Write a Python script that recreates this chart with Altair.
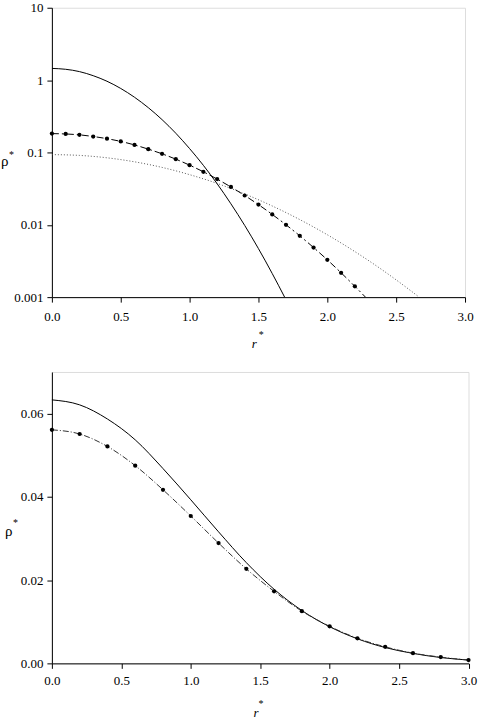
import altair as alt
import pandas as pd

# ---------------- data ----------------
# top panel (log scale)
top_r_solid = [0.0, 0.1, 0.2, 0.3, 0.4, 0.5, 0.6, 0.7, 0.8, 0.9, 1.0, 1.1, 1.2, 1.3, 1.4, 1.5, 1.6, 1.69]
top_rho_solid = [1.45, 1.41, 1.31, 1.15, 0.964, 0.766, 0.579, 0.416, 0.284, 0.184, 0.113, 0.0663, 0.0369,
                 0.0195, 0.0098, 0.00468, 0.00212, 0.001]

top_r_dotted = [0.0, 0.2, 0.4, 0.6, 0.8, 1.0, 1.2, 1.4, 1.6, 1.8, 2.0, 2.2, 2.4, 2.6, 2.667]
top_rho_dotted = [0.0933, 0.0910, 0.0843, 0.0742, 0.0621, 0.0493, 0.0373, 0.0267, 0.0182, 0.0118,
                  0.00728, 0.00426, 0.00237, 0.00125, 0.001]

top_r_marked = [0.0, 0.1, 0.2, 0.3, 0.4, 0.5, 0.6, 0.7, 0.8, 0.9, 1.0, 1.1, 1.2, 1.3, 1.4, 1.5, 1.6,
                1.7, 1.8, 1.9, 2.0, 2.1, 2.2]
top_rho_marked = [0.182, 0.180, 0.175, 0.166, 0.155, 0.142, 0.127, 0.111, 0.0957, 0.0807, 0.0667,
                  0.054, 0.0428, 0.0333, 0.0254, 0.0190, 0.0139, 0.0100, 0.00704, 0.00485, 0.00328,
                  0.00217, 0.00141]
top_r_marked_end = [2.277]
top_rho_marked_end = [0.001]

# bottom panel (linear scale)
bot_r = [0.0, 0.2, 0.4, 0.6, 0.8, 1.0, 1.2, 1.4, 1.6, 1.8, 2.0, 2.2, 2.4, 2.6, 2.8, 3.0]
bot_rho_solid = [0.0633, 0.0621, 0.0587, 0.0537, 0.0468, 0.0393, 0.0316, 0.0242, 0.0178, 0.0127,
                 0.0088, 0.0059, 0.0038, 0.0024, 0.0014, 0.0008]
bot_rho_marked = [0.0561, 0.0551, 0.0521, 0.0475, 0.0417, 0.0354, 0.0289, 0.0227, 0.0173, 0.01254,
                  0.00889, 0.00603, 0.00397, 0.00246, 0.0015, 0.00079]

x_ticks = [0.0, 0.5, 1.0, 1.5, 2.0, 2.5, 3.0]
top_y_ticks = [0.001, 0.01, 0.1, 1, 10]
bot_y_ticks = [0.0, 0.02, 0.04, 0.06]

FONT = "Liberation Serif, Times New Roman, serif"

# ---------------- tables ----------------
t_solid = pd.DataFrame({"r": top_r_solid, "rho": top_rho_solid})
t_dot = pd.DataFrame({"r": top_r_dotted, "rho": top_rho_dotted})
t_mark = pd.DataFrame({"r": top_r_marked, "rho": top_rho_marked})
t_mark_line = pd.DataFrame({"r": top_r_marked + top_r_marked_end,
                            "rho": top_rho_marked + top_rho_marked_end})
b_solid = pd.DataFrame({"r": bot_r, "rho": bot_rho_solid})
b_mark = pd.DataFrame({"r": bot_r, "rho": bot_rho_marked})


def x_axis(pad):
    return alt.Axis(values=x_ticks, format=".1f", title=None, grid=False, domainColor="black",
                    tickColor="black", tickSize=5, labelFont=FONT, labelFontSize=13,
                    labelColor="black", labelPadding=pad, labelFlush=False)


def x_enc(pad):
    return alt.X("r:Q", scale=alt.Scale(domain=[0, 3], nice=False, zero=False), axis=x_axis(pad))


top_scale = alt.Scale(type="log", domain=[0.001, 10], nice=False)
top_axis = alt.Axis(values=top_y_ticks, format="~g", title=None, grid=False, domainColor="black",
                    tickColor="black", tickSize=5, labelFont=FONT, labelFontSize=13,
                    labelColor="black", labelPadding=4, labelFlush=False)
bot_scale = alt.Scale(domain=[0, 0.07], nice=False)
bot_axis = alt.Axis(values=bot_y_ticks, format=".2f", title=None, grid=False, domainColor="black",
                    tickColor="black", tickSize=5, labelFont=FONT, labelFontSize=13,
                    labelColor="black", labelPadding=4, labelFlush=False)


def texts(items):
    layers = []
    for txt, x, y, size, style, align in items:
        layers.append(
            alt.Chart(pd.DataFrame({"a": [0]})).mark_text(
                text=txt, font=FONT, fontSize=size, fontStyle=style, align=align,
                baseline="middle", color="black"
            ).encode(x=alt.value(x), y=alt.value(y))
        )
    return layers


tx = x_enc(8)
ty = alt.Y("rho:Q", scale=top_scale, axis=top_axis)
top = alt.layer(
    alt.Chart(t_dot).mark_line(color="#444444", strokeWidth=0.9, strokeDash=[1, 2],
                               interpolate="monotone", clip=True).encode(x=tx, y=ty),
    alt.Chart(t_solid).mark_line(color="black", strokeWidth=1,
                                 interpolate="monotone", clip=True).encode(x=tx, y=ty),
    alt.Chart(t_mark_line).mark_line(color="black", strokeWidth=1, strokeDash=[7, 3, 2, 3],
                                     interpolate="monotone", clip=True).encode(x=tx, y=ty),
    alt.Chart(t_mark).mark_point(filled=True, color="black", size=18, opacity=1,
                                 shape="circle").encode(x=tx, y=ty),
    *texts([
        ("ρ", -51, 154, 15, "normal", "left"),
        ("*", -43, 148, 10, "normal", "left"),
        ("r", 202.7, 337, 13, "italic", "center"),
        ("*", 209.7, 328, 10, "normal", "center"),
    ]),
).properties(width=414, height=290)

bx = x_enc(6)
by = alt.Y("rho:Q", scale=bot_scale, axis=bot_axis)
bottom = alt.layer(
    alt.Chart(b_solid).mark_line(color="black", strokeWidth=1,
                                 interpolate="monotone").encode(x=bx, y=by),
    alt.Chart(b_mark).mark_line(color="#333333", strokeWidth=1, strokeDash=[6, 2, 1, 2],
                                interpolate="monotone").encode(x=bx, y=by),
    alt.Chart(b_mark).mark_point(filled=True, color="black", size=18, opacity=1,
                                 shape="circle").encode(x=bx, y=by),
    *texts([
        ("ρ", -47, 159, 15, "normal", "left"),
        ("*", -39, 151, 10, "normal", "left"),
        ("r", 204.5, 342, 13, "italic", "center"),
        ("*", 209.5, 333, 10, "normal", "center"),
    ]),
).properties(width=417.5, height=292)

chart = alt.vconcat(top, bottom, spacing=19).properties(
    padding={"left": 0, "top": 0, "right": 0, "bottom": 0}
).resolve_scale(x="independent", y="independent").configure_view(stroke=None).configure(
    background="white"
)

chart.save("out.html", embed_options={"renderer": "svg", "actions": False})
